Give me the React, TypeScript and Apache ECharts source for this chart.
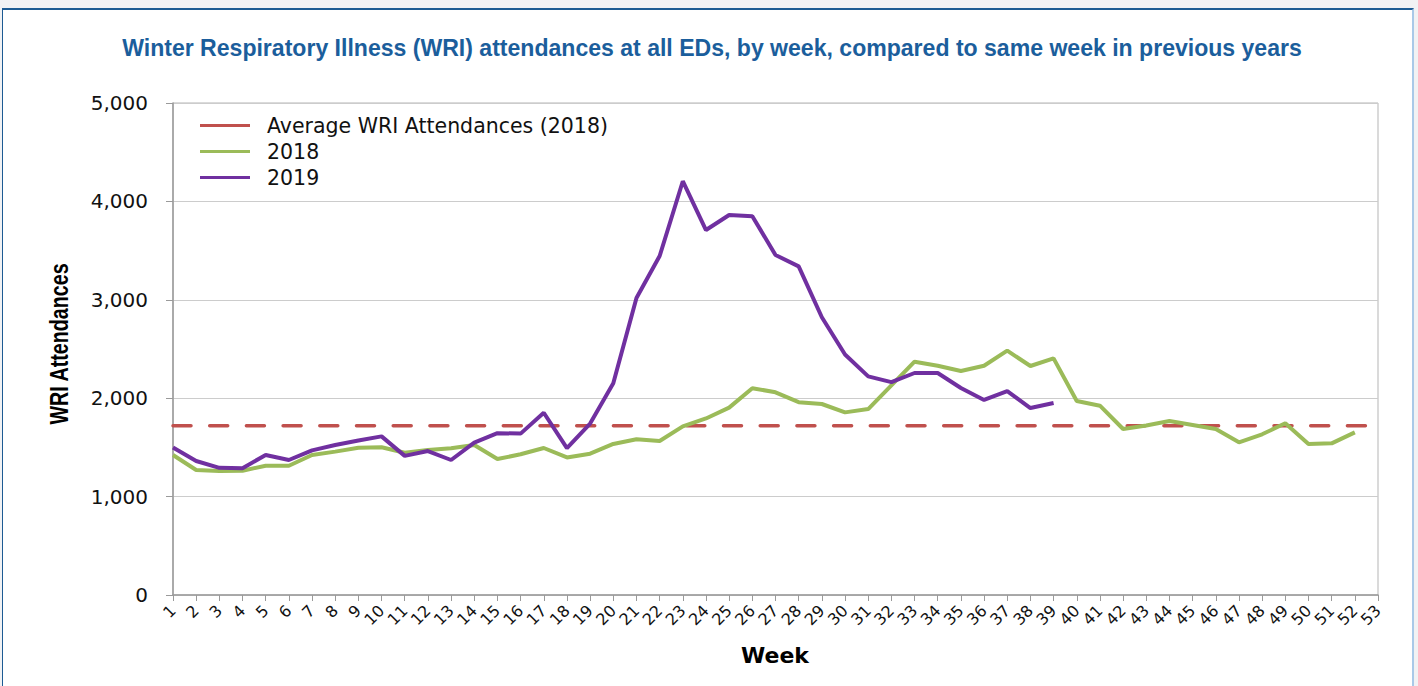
import React, { useEffect, useRef } from "react";
import * as echarts from "echarts";

const WEEKS = [
  "1", "2", "3", "4", "5", "6", "7", "8", "9", "10", "11", "12", "13", "14", "15", "16", "17", "18",
  "19", "20", "21", "22", "23", "24", "25", "26", "27", "28", "29", "30", "31", "32", "33", "34", "35",
  "36", "37", "38", "39", "40", "41", "42", "43", "44", "45", "46", "47", "48", "49", "50", "51", "52", "53",
];

const AVG_2018 = 1720;

const WRI_2018 = [
  1423, 1270, 1260, 1263, 1314, 1314, 1423, 1457, 1497, 1501, 1446, 1474, 1491, 1524, 1382, 1430, 1494,
  1398, 1436, 1535, 1583, 1565, 1714, 1794, 1904, 2102, 2060, 1960, 1941, 1856, 1890, 2131, 2371, 2330,
  2276, 2330, 2483, 2327, 2405, 1971, 1924, 1687, 1722, 1768, 1728, 1687, 1552, 1633, 1745, 1535, 1541, 1653,
];

const WRI_2019 = [
  1498, 1362, 1292, 1288, 1423, 1372, 1470, 1524, 1570, 1612, 1414, 1463, 1372, 1548, 1645, 1640, 1852,
  1492, 1742, 2152, 3018, 3445, 4205, 3709, 3862, 3850, 3455, 3340, 2823, 2444, 2222, 2163, 2256, 2256,
  2104, 1982, 2073, 1900, 1951,
];

const TITLE = "Winter Respiratory Illness (WRI) attendances at all EDs, by week, compared to same week in previous years";
const Y_TITLE = "WRI Attendances";
const X_TITLE = "Week";
const NAME_AVG = "Average WRI Attendances (2018)";
const NAME_2018 = "2018";
const NAME_2019 = "2019";

const ARIAL = "'Liberation Sans', Arial, Helvetica, sans-serif";
const DEJAVU = "'DejaVu Sans', 'Liberation Sans', Arial, sans-serif";

const RED = "#c0504d";
const GREEN = "#9bbb59";
const PURPLE = "#7030a0";

function measure(text: string, font: string): number {
  const c = document.createElement("canvas");
  const ctx = c.getContext("2d");
  if (!ctx) return 0;
  ctx.font = font;
  return ctx.measureText(text).width;
}

export default function App() {
  const ref = useRef<HTMLDivElement>(null);

  useEffect(() => {
    if (!ref.current) return;
    const chart = echarts.init(ref.current, null, { renderer: "svg" });

    const titleW = measure(TITLE, "bold 23px 'Liberation Sans'") || 1180;
    const titleScale = 1180 / titleW;
    const yTitleW = measure(Y_TITLE, "bold 25px 'Liberation Sans'") || 162;
    const yTitleScale = 162 / yTitleW;

    chart.setOption({
      animation: false,
      legend: {
        orient: "vertical",
        left: 200,
        top: 115,
        icon: "rect",
        itemWidth: 50,
        itemHeight: 3,
        itemGap: 5,
        padding: 0,
        textStyle: { fontSize: 20.5, color: "#111", fontFamily: DEJAVU, padding: [0, 0, 0, 12] },
        data: [NAME_AVG, NAME_2018, NAME_2019],
      },
      grid: {
        left: 173,
        right: 40,
        top: 103,
        bottom: 91,
        show: true,
        borderColor: "#b5b5b5",
        borderWidth: 1,
        outerBoundsMode: "none",
      },
      xAxis: {
        type: "category",
        data: WEEKS,
        boundaryGap: false,
        axisLine: { lineStyle: { color: "#9a9a9a", width: 1.5 } },
        axisTick: { show: true, interval: 0, length: 6, lineStyle: { color: "#9a9a9a" } },
        axisLabel: { interval: 0, rotate: 45, fontSize: 16, color: "#111", margin: 13, fontFamily: DEJAVU },
        splitLine: { show: false },
      },
      yAxis: {
        type: "value",
        min: 0,
        max: 5000,
        interval: 1000,
        axisLine: { show: true, lineStyle: { color: "#9a9a9a", width: 1.5 } },
        axisTick: { show: true, length: 7, lineStyle: { color: "#9a9a9a" } },
        axisLabel: {
          fontSize: 20,
          color: "#111",
          margin: 25,
          fontFamily: DEJAVU,
          formatter: (v: number) => v.toLocaleString("en-US"),
        },
        splitLine: { lineStyle: { color: "#cccccc", width: 1 } },
      },
      series: [
        {
          name: NAME_AVG,
          type: "line",
          data: WEEKS.map(() => AVG_2018),
          symbol: "none",
          silent: true,
          itemStyle: { color: RED },
          lineStyle: { color: RED, width: 3.5, type: [18, 18.7], cap: "round" },
          z: 1,
        },
        {
          name: NAME_2018,
          type: "line",
          data: WRI_2018,
          symbol: "none",
          itemStyle: { color: GREEN },
          lineStyle: { color: GREEN, width: 4 },
          z: 2,
        },
        {
          name: NAME_2019,
          type: "line",
          data: WRI_2019,
          symbol: "none",
          itemStyle: { color: PURPLE },
          lineStyle: { color: PURPLE, width: 4 },
          z: 3,
        },
      ],
      graphic: [
        {
          type: "text",
          x: 712,
          y: 48,
          scaleX: titleScale,
          style: {
            text: TITLE,
            fontSize: 23,
            fontWeight: "bold",
            fontFamily: ARIAL,
            fill: "#1b5e9c",
            align: "center",
            verticalAlign: "middle",
          },
        },
        {
          type: "text",
          x: 60,
          y: 344,
          rotation: Math.PI / 2,
          scaleX: yTitleScale,
          style: {
            text: Y_TITLE,
            fontSize: 25,
            fontWeight: "bold",
            fontFamily: ARIAL,
            fill: "#000",
            align: "center",
            verticalAlign: "middle",
          },
        },
        {
          type: "text",
          x: 775,
          y: 655,
          style: {
            text: X_TITLE,
            fontSize: 22,
            fontWeight: "bold",
            fontFamily: DEJAVU,
            fill: "#000",
            align: "center",
            verticalAlign: "middle",
          },
        },
      ],
    });
    return () => chart.dispose();
  }, []);

  return (
    <div style={{ position: "fixed", inset: 0, background: "#f1f2f4", overflow: "hidden" }}>
      <div
        style={{
          position: "absolute",
          left: 2,
          top: 8,
          width: 1412,
          height: 720,
          background: "#ffffff",
          borderTop: "2px solid #1d5b93",
          borderLeft: "1px solid #1d5b93",
          borderRight: "2px solid #a9c9e8",
          boxSizing: "border-box",
        }}
      />
      <div ref={ref} style={{ position: "absolute", left: 0, top: 0, width: 1418, height: 686 }} />
    </div>
  );
}
